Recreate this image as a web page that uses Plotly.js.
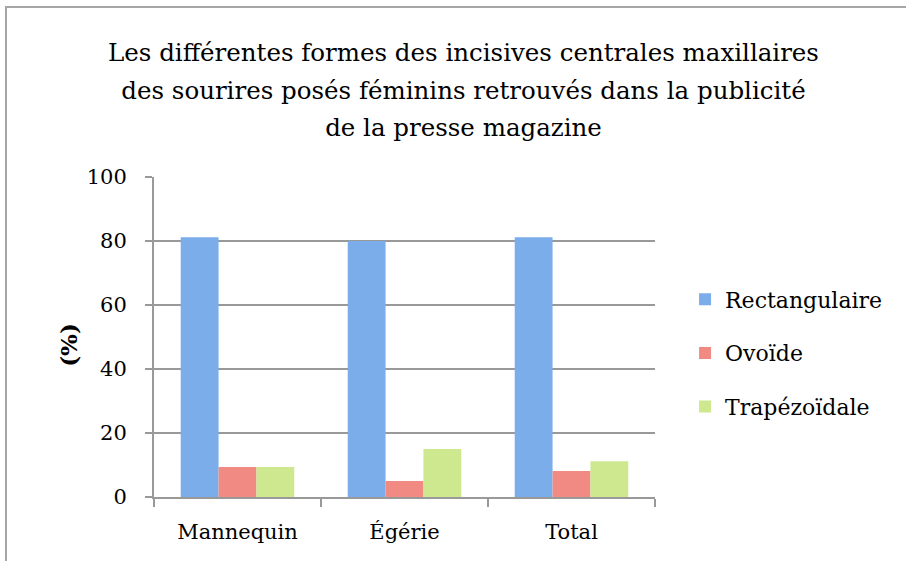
<!DOCTYPE html>
<html>
<head>
<meta charset="utf-8">
<script src="https://cdn.plot.ly/plotly-3.0.1.min.js"></script>
<style>
html,body{margin:0;padding:0;background:#fff;overflow:hidden;}
#chart{width:906px;height:561px;position:absolute;left:0;top:0;}
#frame{position:absolute;left:5px;top:6px;width:1000px;height:1000px;border:2px solid #a6a6a6;pointer-events:none;}
</style>
</head>
<body>
<div id="chart"></div>
<div id="frame"></div>
<script>
const categories = ["Mannequin", "Égérie", "Total"];
const seriesNames = ["Rectangulaire", "Ovoïde", "Trapézoïdale"];
const rectangulaire = [81.2, 80, 81.2];
const ovoide = [9.4, 5, 8.1];
const trapezoidale = [9.4, 15, 11.2];
const yTicks = [0, 20, 40, 60, 80, 100];
const titleLines = [
  "Les différentes formes des incisives centrales maxillaires",
  "des sourires posés féminins retrouvés dans la publicité",
  "de la presse magazine"
];
const yTitleText = "<b>(%)</b>";

const colors = ["#7badea", "#f08a83", "#cde88e"];
const values = [rectangulaire, ovoide, trapezoidale];
const serif = "DejaVu Serif, Liberation Serif, serif";

const titleText = titleLines
  .map(l => '<span style="font-size:24.5px">' + l + '</span>')
  .join("<br>");

const traces = values.map((v, i) => ({
  type: "bar",
  name: seriesNames[i],
  x: categories,
  y: v,
  legendgroup: "g" + i,
  marker: {color: colors[i], line: {width: 0}},
  hoverinfo: "x+y+name"
}));

const layout = {
  width: 906, height: 561,
  margin: {l: 154, r: 251, t: 177, b: 64},
  paper_bgcolor: "#ffffff",
  plot_bgcolor: "#ffffff",
  font: {family: serif, color: "#000000", size: 21},
  annotations: [{
    text: titleText,
    xref: "paper", yref: "paper",
    x: 0.617, y: 1.272, xanchor: "center", yanchor: "middle",
    showarrow: false, align: "center",
    font: {family: serif, size: 29, color: "#000000"}
  }, {
    text: yTitleText,
    xref: "paper", yref: "paper",
    x: -0.172, y: 0.475, xanchor: "center", yanchor: "middle",
    textangle: -90, showarrow: false,
    font: {family: serif, size: 23, color: "#000000"}
  }],
  barmode: "group",
  bargap: 0.32,
  bargroupgap: 0,
  xaxis: {
    type: "category",
    showline: true, linecolor: "#999999", linewidth: 2,
    ticks: "outside", ticklen: 8, tickcolor: "#999999", tickwidth: 2,
    tickson: "boundaries",
    showgrid: false,
    tickfont: {family: serif, size: 21},
    ticklabelstandoff: 15,
    zeroline: false
  },
  yaxis: {
    range: [0, 100],
    tickvals: yTicks,
    showline: true, linecolor: "#999999", linewidth: 2,
    ticks: "outside", ticklen: 7, tickcolor: "#999999", tickwidth: 2,
    showgrid: true, gridcolor: "#999999", gridwidth: 2,
    zeroline: false,
    tickfont: {family: serif, size: 21},
    ticklabelstandoff: 14
  },
  legend: {
    x: 1.06, xanchor: "left", y: 0.45, yanchor: "middle",
    font: {family: serif, size: 22},
    traceorder: "grouped",
    tracegroupgap: 22,
    itemwidth: 30,
    bgcolor: "rgba(0,0,0,0)"
  },
  showlegend: true
};

Plotly.newPlot("chart", traces, layout, {displayModeBar: false, staticPlot: true});
</script>
</body>
</html>
